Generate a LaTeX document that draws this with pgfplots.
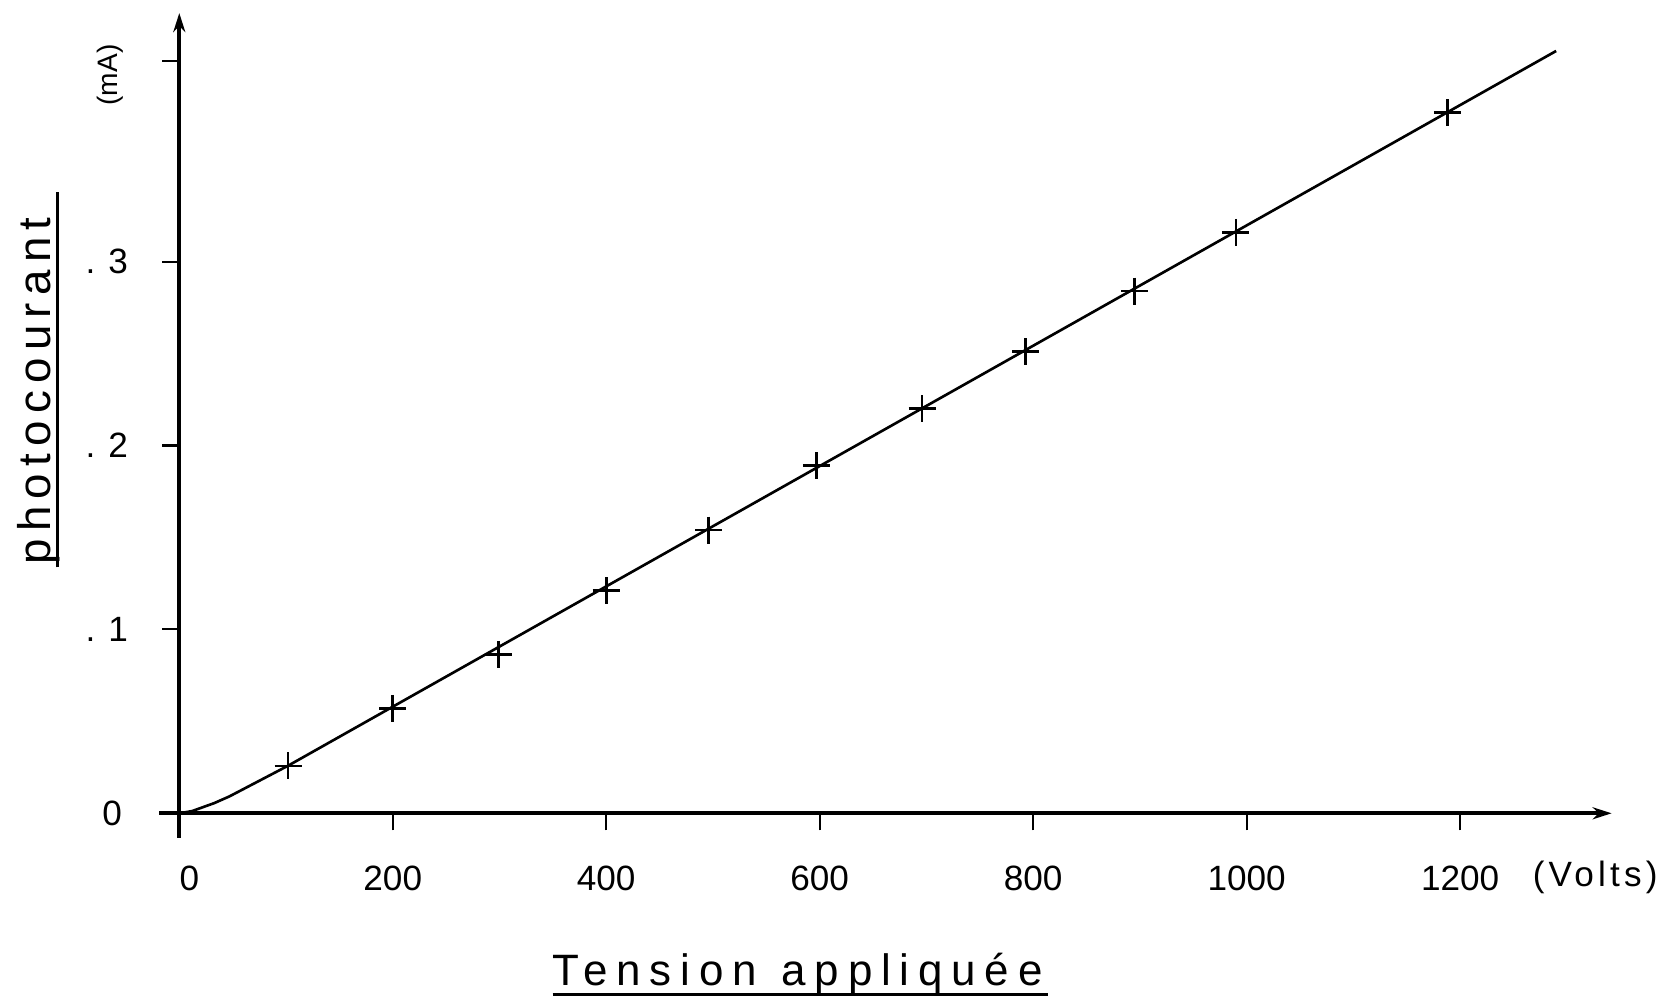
\documentclass[border=0pt]{standalone}
\usepackage{fontspec}
\setmainfont{Liberation Sans}
\newfontfamily\widefont[LetterSpace=20]{Liberation Sans}
\newfontfamily\pcfont[LetterSpace=16]{Liberation Sans}
\newfontfamily\voltfont[LetterSpace=12]{Liberation Sans}
\usepackage{pgfplots}
\pgfplotsset{compat=1.18}
\usetikzlibrary{arrows.meta}
\newcommand\ul[2][0.7mm]{\vtop{\hbox{\raisebox{0pt}[\height][0pt]{#2}}\kern#1\hrule height 0.8pt}}
\begin{document}
\begin{tikzpicture}
\useasboundingbox (-17.93mm,-19.17mm) rectangle (148.37mm,81.33mm);
\begin{axis}[
  anchor=origin, at={(0,0)},
  x=0.10673mm, y=183.87mm,
  xmin=-19, xmax=1342, ymin=-0.0134, ymax=0.4352,
  axis lines=middle,
  axis line style={line width=1.1pt, -{Stealth[length=1.9mm,width=1.2mm]}},
  hide obscured x ticks=false, hide obscured y ticks=false,
  clip=false,
  tick align=outside,
  major tick length=1.7mm,
  tick style={line width=0.6pt, black},
  xtick={0,200,400,600,800,1000,1200},
  xticklabels={\kern2mm0,200,400,600,800,1000,1200},
  ytick={0,0.1,0.2,0.3,0.409},
  yticklabels={0\kern0.6mm,{.\kern1.3mm1},{.\kern1.3mm2},{.\kern1.3mm3},{}},
  minor tick num=0,
  /pgf/number format/assume math mode=true,
  ticklabel style={font=\fontsize{10}{12}\selectfont},
  xticklabel style={anchor=center, yshift=-4.8mm},
  yticklabel style={anchor=east, xshift=-2.2mm},
]
\addplot[black, line width=0.75pt] coordinates {
  (0,0) (12,0.0012) (33,0.0056) (47,0.0092) (102,0.0259) (1290,0.4146)
};
\addplot[only marks, mark=+, mark size=1.35mm, mark options={line width=0.75pt, black}] coordinates {
  (102,0.0258) (200,0.0570) (299,0.0864) (400,0.121) (496,0.154)
  (597,0.189) (696,0.220) (793,0.251) (895,0.284) (990,0.316) (1188,0.381)
};
\node[anchor=base, font=\fontsize{12.5}{14}\selectfont\widefont] at (axis cs:581.6,-0.0939) {\ul{Tension\kern 2.5mm appliquée\kern 0.5mm}};
\node[rotate=90, anchor=base, font=\fontsize{13}{15}\selectfont\pcfont] at (axis cs:-121,0.2357) {\ul[0.6mm]{\kern0.3mm photocourant\kern 2.5mm}};
\node[rotate=90, anchor=base, font=\fontsize{8}{10}\selectfont] at (axis cs:-58,0.4015) {(mA)};
\node[anchor=center, font=\fontsize{10}{12}\selectfont\voltfont] at (axis cs:1326.6,-0.0346) {(Volts)};
\end{axis}
\end{tikzpicture}
\end{document}
